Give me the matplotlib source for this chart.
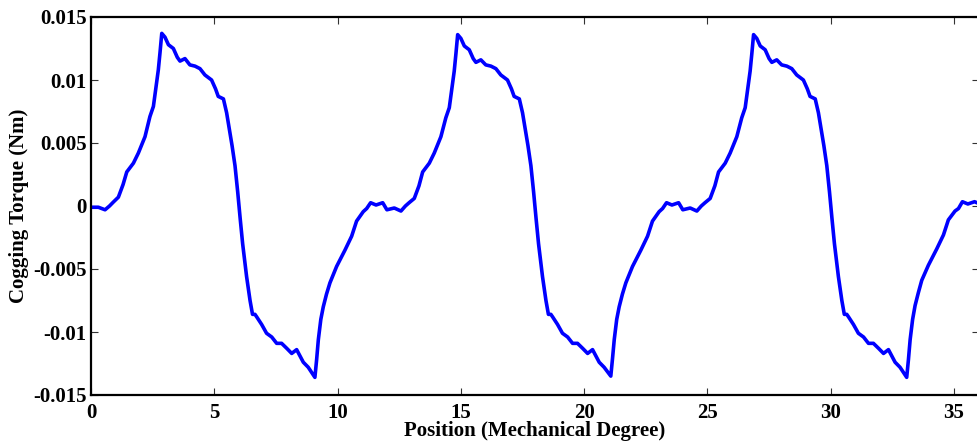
import numpy as np
import matplotlib
matplotlib.use("Agg")
import matplotlib.pyplot as plt

# Rotor position within one slot-pitch cycle (mechanical degrees)
phase = [0.00, 0.30, 0.57, 0.75, 0.90, 1.11, 1.30, 1.45, 1.72, 1.92,
         2.19, 2.39, 2.53, 2.73, 2.80, 2.87, 3.00, 3.14, 3.34, 3.50,
         3.61, 3.81, 4.01, 4.22, 4.42, 4.62, 4.89, 5.05, 5.16, 5.37,
         5.50, 5.62, 5.72, 5.84, 5.95, 6.05, 6.15, 6.31, 6.45, 6.55,
         6.65, 6.72, 6.92, 7.12, 7.33, 7.53, 7.73, 7.94, 8.14, 8.34,
         8.61, 8.81, 9.08, 9.15, 9.22, 9.32, 9.42, 9.55, 9.69, 9.96,
         10.30, 10.57, 10.77, 11.04, 11.18, 11.34, 11.56, 11.83]

# Cogging torque (Nm) over three consecutive cycles
cycle_1 = [-0.0001, -0.0001, -0.0003, 0.0000, 0.0003, 0.0007, 0.0017, 0.0027, 0.0034, 0.0042,
           0.0055, 0.0071, 0.0079, 0.0108, 0.0122, 0.0137, 0.0134, 0.0128, 0.0125, 0.0118,
           0.0115, 0.0117, 0.0112, 0.0111, 0.0109, 0.0104, 0.0100, 0.0093, 0.0087, 0.0085,
           0.0074, 0.0060, 0.0048, 0.0032, 0.0011, -0.0010, -0.0030, -0.0056, -0.0075, -0.0086,
           -0.0086, -0.0088, -0.0094, -0.0101, -0.0104, -0.0109, -0.0109, -0.0113, -0.0117, -0.0114,
           -0.0124, -0.0128, -0.0136, -0.0122, -0.0106, -0.0090, -0.0080, -0.0070, -0.0061, -0.0048,
           -0.0035, -0.0024, -0.0012, -0.00045, -0.0002, 0.00026, 0.00008, 0.00026]
cycle_2 = [-0.0003, -0.00016, -0.0004, 0.0000, 0.00026, 0.0006, 0.0016, 0.0027, 0.0034, 0.0042,
           0.0055, 0.0070, 0.0078, 0.0107, 0.0121, 0.0136, 0.0133, 0.0127, 0.0124, 0.0117,
           0.0114, 0.0116, 0.0112, 0.0111, 0.0109, 0.0104, 0.0100, 0.0093, 0.0087, 0.0085,
           0.0074, 0.0060, 0.0048, 0.0032, 0.0011, -0.0010, -0.0030, -0.0056, -0.0075, -0.0086,
           -0.0086, -0.0088, -0.0094, -0.0101, -0.0104, -0.0109, -0.0109, -0.0113, -0.0117, -0.0114,
           -0.0124, -0.0128, -0.0135, -0.0121, -0.0106, -0.0090, -0.0080, -0.0070, -0.0061, -0.0048,
           -0.0035, -0.0024, -0.0012, -0.00045, -0.0002, 0.00026, 0.00008, 0.00026]
cycle_3 = [-0.0003, -0.00016, -0.0004, 0.0000, 0.00026, 0.0006, 0.0016, 0.0027, 0.0034, 0.0042,
           0.0055, 0.0070, 0.0078, 0.0107, 0.0121, 0.0136, 0.0133, 0.0127, 0.0124, 0.0117,
           0.0114, 0.0116, 0.0112, 0.0111, 0.0109, 0.0104, 0.0100, 0.0093, 0.0087, 0.0085,
           0.0074, 0.0060, 0.0048, 0.0032, 0.0011, -0.0010, -0.0030, -0.0056, -0.0075, -0.0086,
           -0.0086, -0.0088, -0.0094, -0.0101, -0.0104, -0.0109, -0.0109, -0.0113, -0.0117, -0.0114,
           -0.0124, -0.0128, -0.0136, -0.0122, -0.0106, -0.0090, -0.0079, -0.0069, -0.0059, -0.0047,
           -0.0034, -0.0023, -0.0011, -0.0004, -0.0002, 0.00034, 0.00016, 0.00034]
cycle_pitch = 12.0
end_position = [36.0]
end_torque = [0.0002]

x_ticks = [0, 5, 10, 15, 20, 25, 30, 35]
y_ticks = [-0.015, -0.01, -0.005, 0, 0.005, 0.01, 0.015]
y_tick_labels = ["-0.015", "-0.01", "-0.005", "0", "0.005", "0.01", "0.015"]

position = np.concatenate([np.array(phase) + k * cycle_pitch for k in range(3)] + [end_position])
torque = np.concatenate([cycle_1, cycle_2, cycle_3, end_torque])

plt.rcParams["font.family"] = ["Liberation Serif", "DejaVu Serif"]
plt.rcParams["font.weight"] = "bold"

fig = plt.figure(figsize=(9.77, 4.43), dpi=100)
ax = fig.add_axes([91 / 977, 1 - 395 / 443, 887.7 / 977, 378 / 443])

ax.plot(position, torque, color="#0000ff", linewidth=2.6,
        solid_joinstyle="round", solid_capstyle="round")

ax.set_xlim(0, 36)
ax.set_ylim(-0.015, 0.015)
ax.set_xticks(x_ticks)
ax.set_xticklabels([str(t) for t in x_ticks])
ax.set_yticks(y_ticks)
ax.set_yticklabels(y_tick_labels)

ax.tick_params(direction="in", length=5, width=0.8, top=True, right=True,
               labelsize=15, color="#333333")
ax.tick_params(axis="x", pad=6)
ax.tick_params(axis="y", pad=3)
for lbl in ax.get_xticklabels() + ax.get_yticklabels():
    lbl.set_fontweight("bold")
for s in ax.spines.values():
    s.set_linewidth(1.6)
    s.set_color("black")

ax.set_xlabel("Position (Mechanical Degree)", fontsize=15, fontweight="bold", labelpad=-2)
ax.set_ylabel("Cogging Torque (Nm)", fontsize=15, fontweight="bold", labelpad=3)

fig.savefig("out.png", dpi=100)
